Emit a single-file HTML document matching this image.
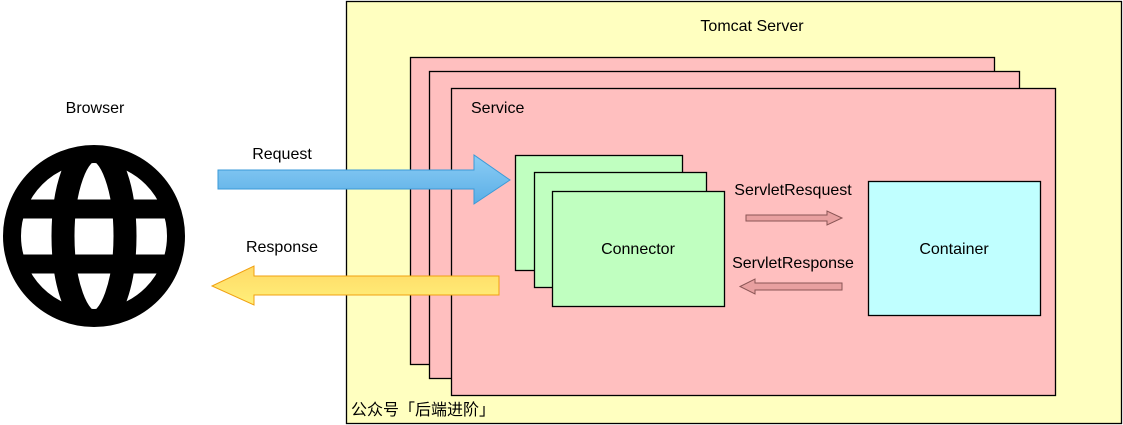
<!DOCTYPE html>
<html><head><meta charset="utf-8"><style>
html,body{margin:0;padding:0;background:#fff;}
svg{display:block;}
text{font-family:"Liberation Sans","Noto Sans CJK SC",sans-serif;font-size:16px;fill:#000;}
</style></head><body>
<svg width="1123" height="425" viewBox="0 0 1123 425" xmlns="http://www.w3.org/2000/svg">
<defs>
<linearGradient id="bl" x1="0" y1="0" x2="0" y2="1"><stop offset="0" stop-color="#8ccdf5"/><stop offset="1" stop-color="#5aaee6"/></linearGradient>
<linearGradient id="yl" x1="0" y1="0" x2="0" y2="1"><stop offset="0" stop-color="#ffd966"/><stop offset="1" stop-color="#fff07a"/></linearGradient>
<clipPath id="gc"><circle cx="94" cy="236" r="82"/></clipPath>
</defs>
<rect x="346.5" y="1.5" width="775" height="422" fill="#ffffc0" stroke="#000" stroke-width="1.3"/>
<text x="752" y="31" text-anchor="middle">Tomcat Server</text>
<rect x="410.5" y="57.5" width="584" height="307" fill="#ffbfbf" stroke="#000" stroke-width="1.3"/>
<rect x="429.5" y="71.5" width="590" height="307" fill="#ffbfbf" stroke="#000" stroke-width="1.3"/>
<rect x="451.5" y="88.5" width="604" height="307" fill="#ffbfbf" stroke="#000" stroke-width="1.3"/>
<text x="471" y="113">Service</text>
<text x="351" y="415" font-size="15">公众号「后端进阶」</text>
<rect x="515.5" y="155.5" width="167" height="115" fill="#c0ffc0" stroke="#000" stroke-width="1.3"/>
<rect x="534.5" y="172.5" width="172" height="115" fill="#c0ffc0" stroke="#000" stroke-width="1.3"/>
<rect x="552.5" y="191.5" width="172" height="115" fill="#c0ffc0" stroke="#000" stroke-width="1.3"/>
<text x="638" y="254" text-anchor="middle">Connector</text>
<rect x="868.5" y="181.5" width="172" height="134" fill="#c0ffff" stroke="#000" stroke-width="1.3"/>
<text x="954" y="254" text-anchor="middle">Container</text>
<text x="793" y="195" text-anchor="middle">ServletResquest</text>
<text x="793" y="268" text-anchor="middle">ServletResponse</text>
<polygon points="746,215 827,215 827,211 842,218 827,225 827,221 746,221" fill="#e8a0a0" stroke="#8a5555" stroke-width="1"/>
<polygon points="842,283 755,283 755,279 740,286.5 755,294 755,290 842,290" fill="#e8a0a0" stroke="#8a5555" stroke-width="1"/>
<polygon points="218,170 474,170 474,155 510,180 474,204 474,189 218,189" fill="url(#bl)" stroke="#3a9ad8" stroke-width="1"/>
<text x="282" y="159" text-anchor="middle">Request</text>
<polygon points="499,276 254,276 254,266 212,286 254,305 254,295 499,295" fill="url(#yl)" stroke="#f0a010" stroke-width="1"/>
<text x="282" y="252" text-anchor="middle">Response</text>
<text x="95" y="113" text-anchor="middle">Browser</text>
<g clip-path="url(#gc)" stroke="#000" stroke-width="19" fill="none">
<ellipse cx="94" cy="236" rx="31" ry="86" stroke-width="23"/>
<line x1="0" y1="209" x2="200" y2="209"/>
<line x1="0" y1="264" x2="200" y2="264"/>
</g>
<circle cx="94" cy="236" r="82" fill="none" stroke="#000" stroke-width="18"/>
</svg>
</body></html>
